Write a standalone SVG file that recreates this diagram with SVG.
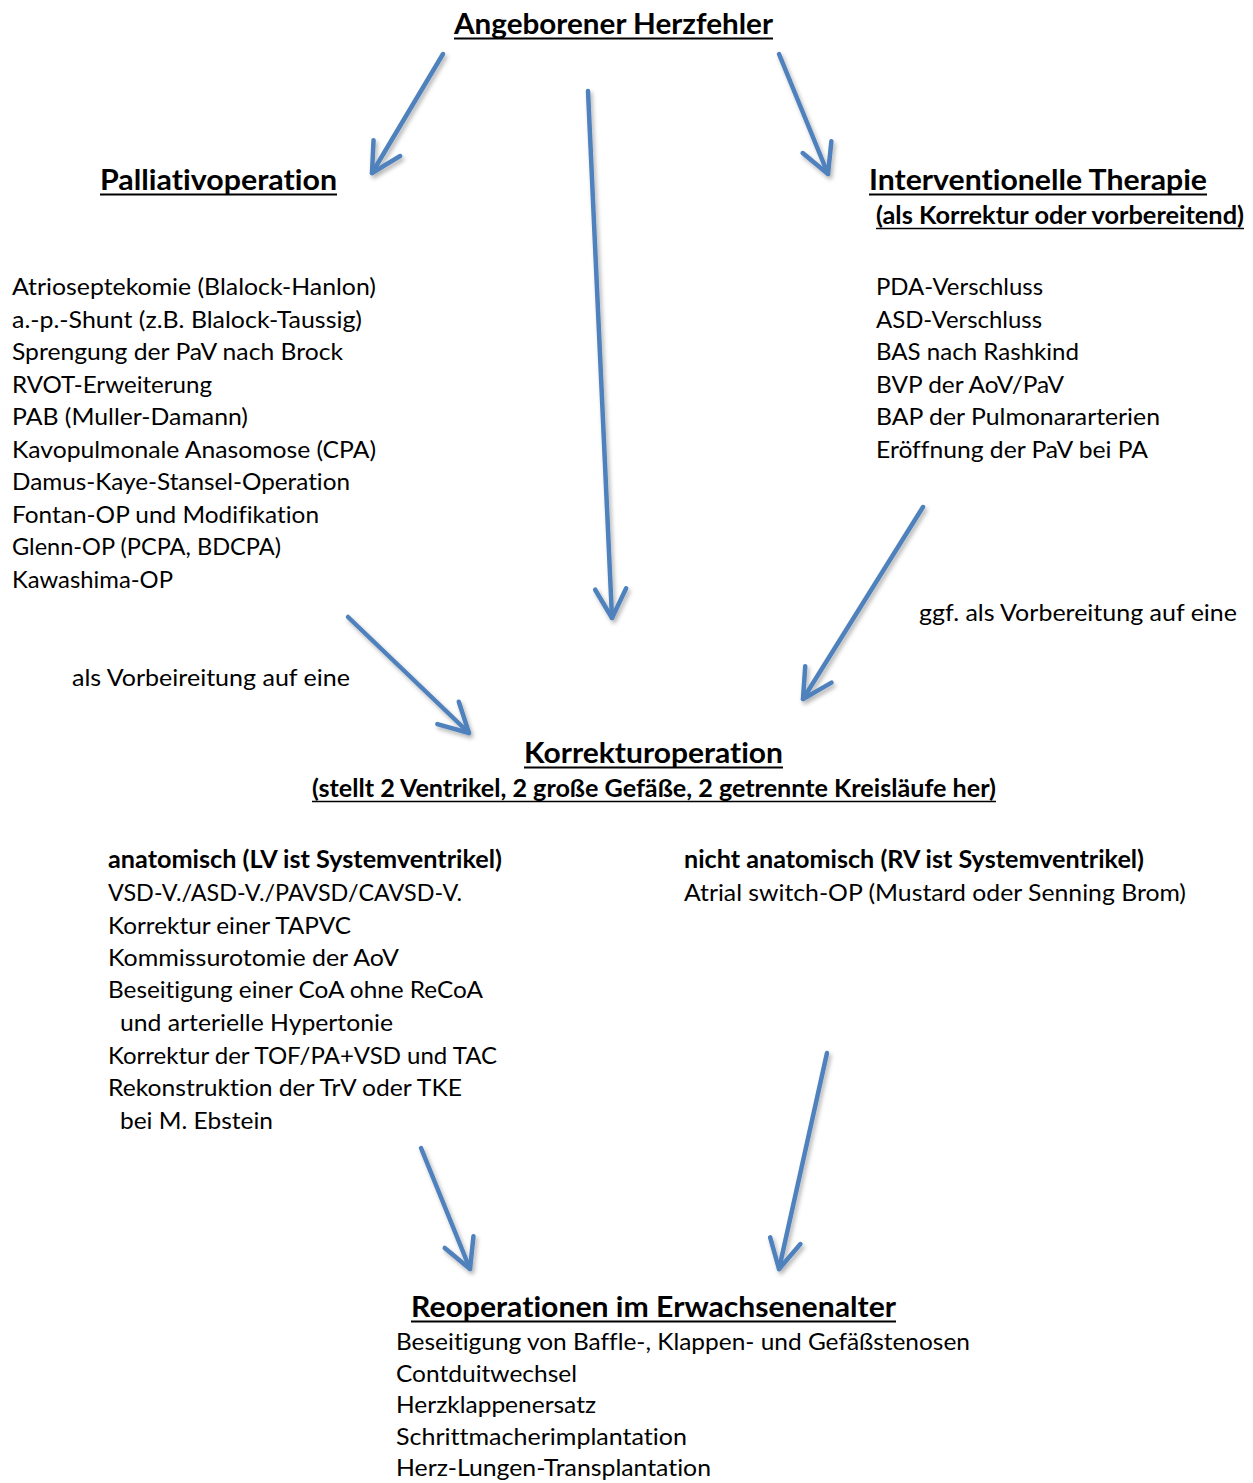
<svg xmlns="http://www.w3.org/2000/svg" width="1253" height="1483" viewBox="0 0 1253 1483">
<style>
text{font-family:Lato,"Open Sans","Liberation Sans",sans-serif;fill:#000;font-variant-ligatures:none;font-feature-settings:"liga" 0,"clig" 0}
.t{font-size:24px}
.sb{font-size:24px;font-weight:bold}
.h{font-size:28px;font-weight:bold}
.u{stroke:#000;stroke-width:2}
.us{stroke:#000;stroke-width:1.6}
.c{stroke:#4F81BD;stroke-width:4.5;stroke-linecap:round;fill:none}
</style>
<defs>
<marker id="ah" markerUnits="userSpaceOnUse" orient="auto" refX="0" refY="0" markerWidth="40" markerHeight="40" viewBox="-35 -20 40 40" overflow="visible">
<path d="M-29,-15.5 L0,0 L-29,15.5" fill="none" stroke="#4F81BD" stroke-width="4.5" stroke-linecap="round" stroke-linejoin="round"/>
</marker>
<filter id="sh" x="-10%" y="-10%" width="120%" height="120%">
<feDropShadow dx="2" dy="3" stdDeviation="2" flood-color="#000" flood-opacity="0.3"/>
</filter>
</defs>
<rect width="1253" height="1483" fill="#fff"/>

<g id="connectors" filter="url(#sh)">
<line class="c" x1="443" y1="54" x2="372" y2="173" marker-end="url(#ah)"/>
<line class="c" x1="588" y1="91" x2="612" y2="618" marker-end="url(#ah)"/>
<line class="c" x1="779" y1="54" x2="828" y2="174" marker-end="url(#ah)"/>
<line class="c" x1="348" y1="617" x2="469" y2="733" marker-end="url(#ah)"/>
<line class="c" x1="923" y1="507" x2="803" y2="699" marker-end="url(#ah)"/>
<line class="c" x1="421" y1="1148" x2="470" y2="1269" marker-end="url(#ah)"/>
<line class="c" x1="827" y1="1053" x2="779" y2="1269" marker-end="url(#ah)"/>
</g>

<g id="connector-labels">
<text class="t" x="72" y="686" textLength="278" lengthAdjust="spacingAndGlyphs">als Vorbeireitung auf eine</text>
<text class="t" x="919" y="621" textLength="318" lengthAdjust="spacingAndGlyphs">ggf. als Vorbereitung auf eine</text>
</g>

<g id="n-title">
<text class="h" x="454" y="33.5" textLength="319" lengthAdjust="spacingAndGlyphs">Angeborener Herzfehler</text>
<line class="u" x1="454" y1="38.5" x2="773" y2="38.5"/>
</g>

<g id="n-palliativ">
<text class="h" x="100" y="190" textLength="237" lengthAdjust="spacingAndGlyphs">Palliativoperation</text>
<line class="u" x1="100" y1="194.5" x2="337" y2="194.5"/>
<text class="t" x="12" y="295" textLength="364" lengthAdjust="spacingAndGlyphs">Atrioseptekomie (Blalock-Hanlon)</text>
<text class="t" x="12" y="327.5" textLength="350" lengthAdjust="spacingAndGlyphs">a.-p.-Shunt (z.B. Blalock-Taussig)</text>
<text class="t" x="12" y="360" textLength="331" lengthAdjust="spacingAndGlyphs">Sprengung der PaV nach Brock</text>
<text class="t" x="12" y="392.5" textLength="200" lengthAdjust="spacingAndGlyphs">RVOT-Erweiterung</text>
<text class="t" x="12" y="425" textLength="236" lengthAdjust="spacingAndGlyphs">PAB (Muller-Damann)</text>
<text class="t" x="12" y="457.5" textLength="364" lengthAdjust="spacingAndGlyphs">Kavopulmonale Anasomose (CPA)</text>
<text class="t" x="12" y="490" textLength="338" lengthAdjust="spacingAndGlyphs">Damus-Kaye-Stansel-Operation</text>
<text class="t" x="12" y="522.5" textLength="307" lengthAdjust="spacingAndGlyphs">Fontan-OP und Modifikation</text>
<text class="t" x="12" y="555" textLength="269" lengthAdjust="spacingAndGlyphs">Glenn-OP (PCPA, BDCPA)</text>
<text class="t" x="12" y="587.5" textLength="161" lengthAdjust="spacingAndGlyphs">Kawashima-OP</text>
</g>

<g id="n-intervention">
<text class="h" x="869" y="190" textLength="338" lengthAdjust="spacingAndGlyphs">Interventionelle Therapie</text>
<line class="u" x1="869" y1="194.5" x2="1207" y2="194.5"/>
<text class="sb" x="876" y="224" textLength="368" lengthAdjust="spacingAndGlyphs">(als Korrektur oder vorbereitend)</text>
<line class="us" x1="876" y1="228.5" x2="1244" y2="228.5"/>
<text class="t" x="876" y="295" textLength="167" lengthAdjust="spacingAndGlyphs">PDA-Verschluss</text>
<text class="t" x="876" y="327.5" textLength="166" lengthAdjust="spacingAndGlyphs">ASD-Verschluss</text>
<text class="t" x="876" y="360" textLength="203" lengthAdjust="spacingAndGlyphs">BAS nach Rashkind</text>
<text class="t" x="876" y="392.5" textLength="188" lengthAdjust="spacingAndGlyphs">BVP der AoV/PaV</text>
<text class="t" x="876" y="425" textLength="284" lengthAdjust="spacingAndGlyphs">BAP der Pulmonararterien</text>
<text class="t" x="876" y="457.5" textLength="272" lengthAdjust="spacingAndGlyphs">Eröffnung der PaV bei PA</text>
</g>

<g id="n-korrektur">
<text class="h" x="524" y="763" textLength="259" lengthAdjust="spacingAndGlyphs">Korrekturoperation</text>
<line class="u" x1="524" y1="767.5" x2="783" y2="767.5"/>
<text class="sb" x="312" y="797" textLength="684" lengthAdjust="spacingAndGlyphs">(stellt 2 Ventrikel, 2 große Gefäße, 2 getrennte Kreisläufe her)</text>
<line class="us" x1="312" y1="801.5" x2="996" y2="801.5"/>
</g>

<g id="n-anatomisch">
<text class="sb" x="108" y="868" textLength="394" lengthAdjust="spacingAndGlyphs">anatomisch (LV ist Systemventrikel)</text>
<text class="t" x="108" y="901" textLength="354" lengthAdjust="spacingAndGlyphs">VSD-V./ASD-V./PAVSD/CAVSD-V.</text>
<text class="t" x="108" y="934" textLength="243" lengthAdjust="spacingAndGlyphs">Korrektur einer TAPVC</text>
<text class="t" x="108" y="966" textLength="291" lengthAdjust="spacingAndGlyphs">Kommissurotomie der AoV</text>
<text class="t" x="108" y="998" textLength="375" lengthAdjust="spacingAndGlyphs">Beseitigung einer CoA ohne ReCoA</text>
<text class="t" x="120" y="1031" textLength="273" lengthAdjust="spacingAndGlyphs">und arterielle Hypertonie</text>
<text class="t" x="108" y="1064" textLength="389" lengthAdjust="spacingAndGlyphs">Korrektur der TOF/PA+VSD und TAC</text>
<text class="t" x="108" y="1096" textLength="354" lengthAdjust="spacingAndGlyphs">Rekonstruktion der TrV oder TKE</text>
<text class="t" x="120" y="1129" textLength="153" lengthAdjust="spacingAndGlyphs">bei M. Ebstein</text>
</g>

<g id="n-nichtanatomisch">
<text class="sb" x="684" y="868" textLength="460" lengthAdjust="spacingAndGlyphs">nicht anatomisch (RV ist Systemventrikel)</text>
<text class="t" x="684" y="901" textLength="502" lengthAdjust="spacingAndGlyphs">Atrial switch-OP (Mustard oder Senning Brom)</text>
</g>

<g id="n-reoperation">
<text class="h" x="411" y="1317" textLength="485" lengthAdjust="spacingAndGlyphs">Reoperationen im Erwachsenenalter</text>
<line class="u" x1="411" y1="1321.5" x2="896" y2="1321.5"/>
<text class="t" x="396" y="1350" textLength="574" lengthAdjust="spacingAndGlyphs">Beseitigung von Baffle-, Klappen- und Gefäßstenosen</text>
<text class="t" x="396" y="1381.5" textLength="181" lengthAdjust="spacingAndGlyphs">Contduitwechsel</text>
<text class="t" x="396" y="1413" textLength="200" lengthAdjust="spacingAndGlyphs">Herzklappenersatz</text>
<text class="t" x="396" y="1444.5" textLength="291" lengthAdjust="spacingAndGlyphs">Schrittmacherimplantation</text>
<text class="t" x="396" y="1476" textLength="315" lengthAdjust="spacingAndGlyphs">Herz-Lungen-Transplantation</text>
</g>
</svg>
